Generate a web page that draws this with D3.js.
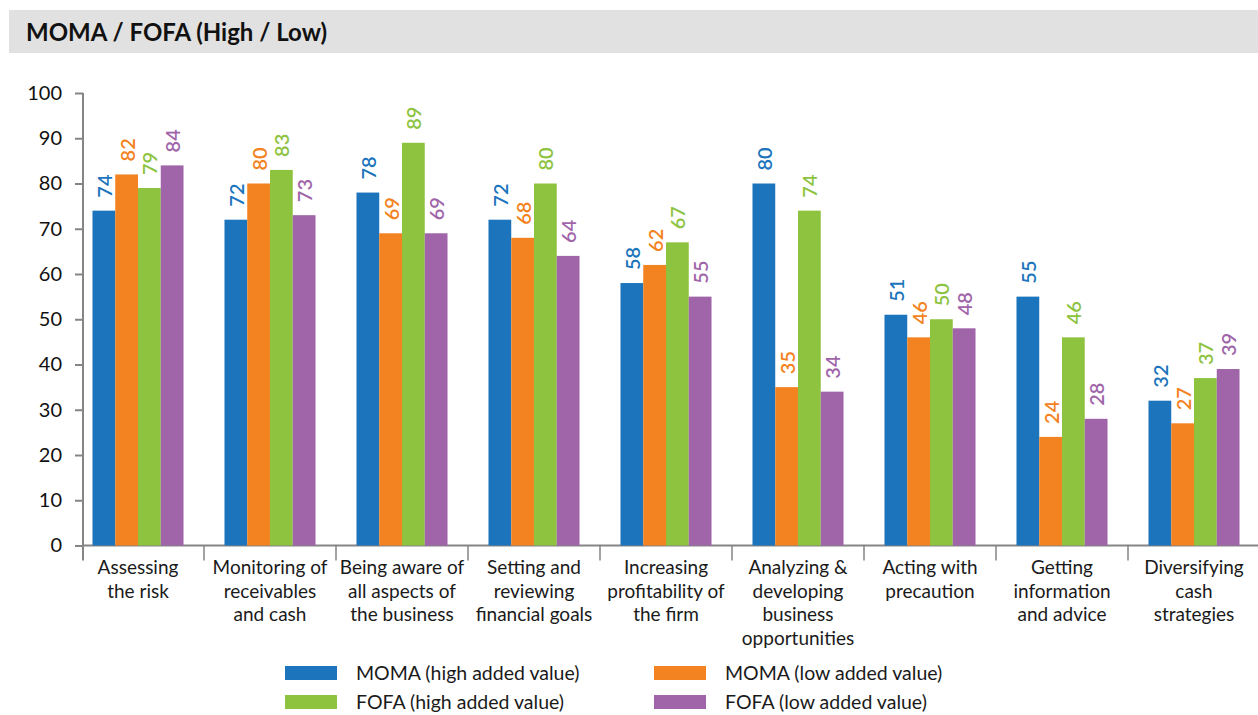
<!DOCTYPE html>
<html>
<head>
<meta charset="utf-8">
<script src="https://cdn.jsdelivr.net/npm/d3@7"></script>
<style>
  html, body { margin: 0; padding: 0; background: #fff; }
  svg { display: block; font-family: Lato, "Open Sans", sans-serif; }
</style>
</head>
<body>
<svg id="chart" width="1258" height="715"></svg>
<script>
// Categories (each split into display lines)
const categories = [
  ["Assessing", "the risk"],
  ["Monitoring of", "receivables", "and cash"],
  ["Being aware of", "all aspects of", "the business"],
  ["Setting and", "reviewing", "financial goals"],
  ["Increasing", "profitability of", "the firm"],
  ["Analyzing &", "developing", "business", "opportunities"],
  ["Acting with", "precaution"],
  ["Getting", "information", "and advice"],
  ["Diversifying", "cash", "strategies"]
];

// Series values
const momaHigh = [74, 72, 78, 72, 58, 80, 51, 55, 32];
const momaLow  = [82, 80, 69, 68, 62, 35, 46, 24, 27];
const fofaHigh = [79, 83, 89, 80, 67, 74, 50, 46, 37];
const fofaLow  = [84, 73, 69, 64, 55, 34, 48, 28, 39];

const seriesNames = [
  "MOMA (high added value)",
  "MOMA (low added value)",
  "FOFA (high added value)",
  "FOFA (low added value)"
];
const seriesColors = ["#1c75bc", "#f38221", "#8dc33f", "#a065a9"];
const yTicks = [0, 10, 20, 30, 40, 50, 60, 70, 80, 90, 100];
const title = "MOMA / FOFA (High / Low)";

const series = [momaHigh, momaLow, fofaHigh, fofaLow].map((vals, i) => ({
  name: seriesNames[i], color: seriesColors[i], values: vals
}));

const svg = d3.select("#chart");

// Title band
svg.append("rect").attr("x", 9).attr("y", 10).attr("width", 1249).attr("height", 43)
  .attr("fill", "#e1e1e1");
svg.append("text").attr("x", 26).attr("y", 41)
  .attr("font-size", 24).attr("font-weight", 700).attr("fill", "#111")
  .text(title);

// Scales
const axisX = 83;
const x0 = d3.scaleBand().domain(d3.range(categories.length)).range([72, 1260]);
const x1 = d3.scaleBand().domain(d3.range(series.length))
  .range([0, x0.bandwidth()]).paddingInner(0).paddingOuter(0.9);
const y = d3.scaleLinear().domain([0, 100]).range([545.5, 93]);

const axisColor = "#858585";

// Y axis
const yAxis = d3.axisLeft(y).tickValues(yTicks).tickSize(8).tickPadding(13);
const gy = svg.append("g").attr("transform", `translate(${axisX},0)`).call(yAxis);
gy.select(".domain").remove();
gy.selectAll(".tick line").attr("stroke", axisColor).attr("stroke-width", 2);
gy.selectAll(".tick text").attr("font-size", 20).attr("fill", "#111")
  .attr("font-family", "Lato, sans-serif");
svg.append("line").attr("x1", axisX).attr("x2", axisX)
  .attr("y1", y(100)).attr("y2", y(0) + 15)
  .attr("stroke", axisColor).attr("stroke-width", 2);

// X axis baseline and category separators
svg.append("line").attr("x1", axisX).attr("x2", 1258)
  .attr("y1", y(0)).attr("y2", y(0))
  .attr("stroke", axisColor).attr("stroke-width", 2);
svg.selectAll("line.sep").data(d3.range(1, categories.length))
  .join("line").attr("class", "sep")
  .attr("x1", i => x0(i)).attr("x2", i => x0(i))
  .attr("y1", y(0)).attr("y2", y(0) + 15)
  .attr("stroke", axisColor).attr("stroke-width", 1.5);

// Bars
const groups = svg.selectAll("g.grp").data(categories)
  .join("g").attr("class", "grp")
  .attr("transform", (d, i) => `translate(${x0(i)},0)`);

groups.each(function (cat, ci) {
  const g = d3.select(this);
  series.forEach((s, si) => {
    const v = s.values[ci];
    g.append("rect")
      .attr("x", x1(si)).attr("width", x1.bandwidth())
      .attr("y", y(v)).attr("height", y(0) - y(v))
      .attr("fill", s.color);
    const cx = x1(si) + x1.bandwidth() / 2;
    g.append("text")
      .attr("transform", `translate(${cx},${y(v) - 13}) rotate(-90)`)
      .attr("text-anchor", "start").attr("dominant-baseline", "central")
      .attr("font-size", 20).attr("font-weight", 600)
      .attr("fill", s.color).text(v);
  });
  // category label
  const t = g.append("text").attr("text-anchor", "middle")
    .attr("font-size", 19).attr("fill", "#1a1a1a");
  cat.forEach((line, li) => {
    t.append("tspan").attr("x", x0.bandwidth() / 2)
      .attr("y", 574 + li * 23.5).text(line);
  });
});

// Legend
const legendPos = [
  { x: 285, y: 666 }, { x: 654, y: 666 },
  { x: 285, y: 695 }, { x: 654, y: 695 }
];
series.forEach((s, i) => {
  const p = legendPos[i];
  svg.append("rect").attr("x", p.x).attr("y", p.y).attr("width", 52).attr("height", 14)
    .attr("fill", s.color);
  svg.append("text").attr("x", p.x + 71).attr("y", p.y + 6.5)
    .attr("dominant-baseline", "central").attr("font-size", 19.5)
    .attr("fill", "#1a1a1a").text(s.name);
});
</script>
</body>
</html>
